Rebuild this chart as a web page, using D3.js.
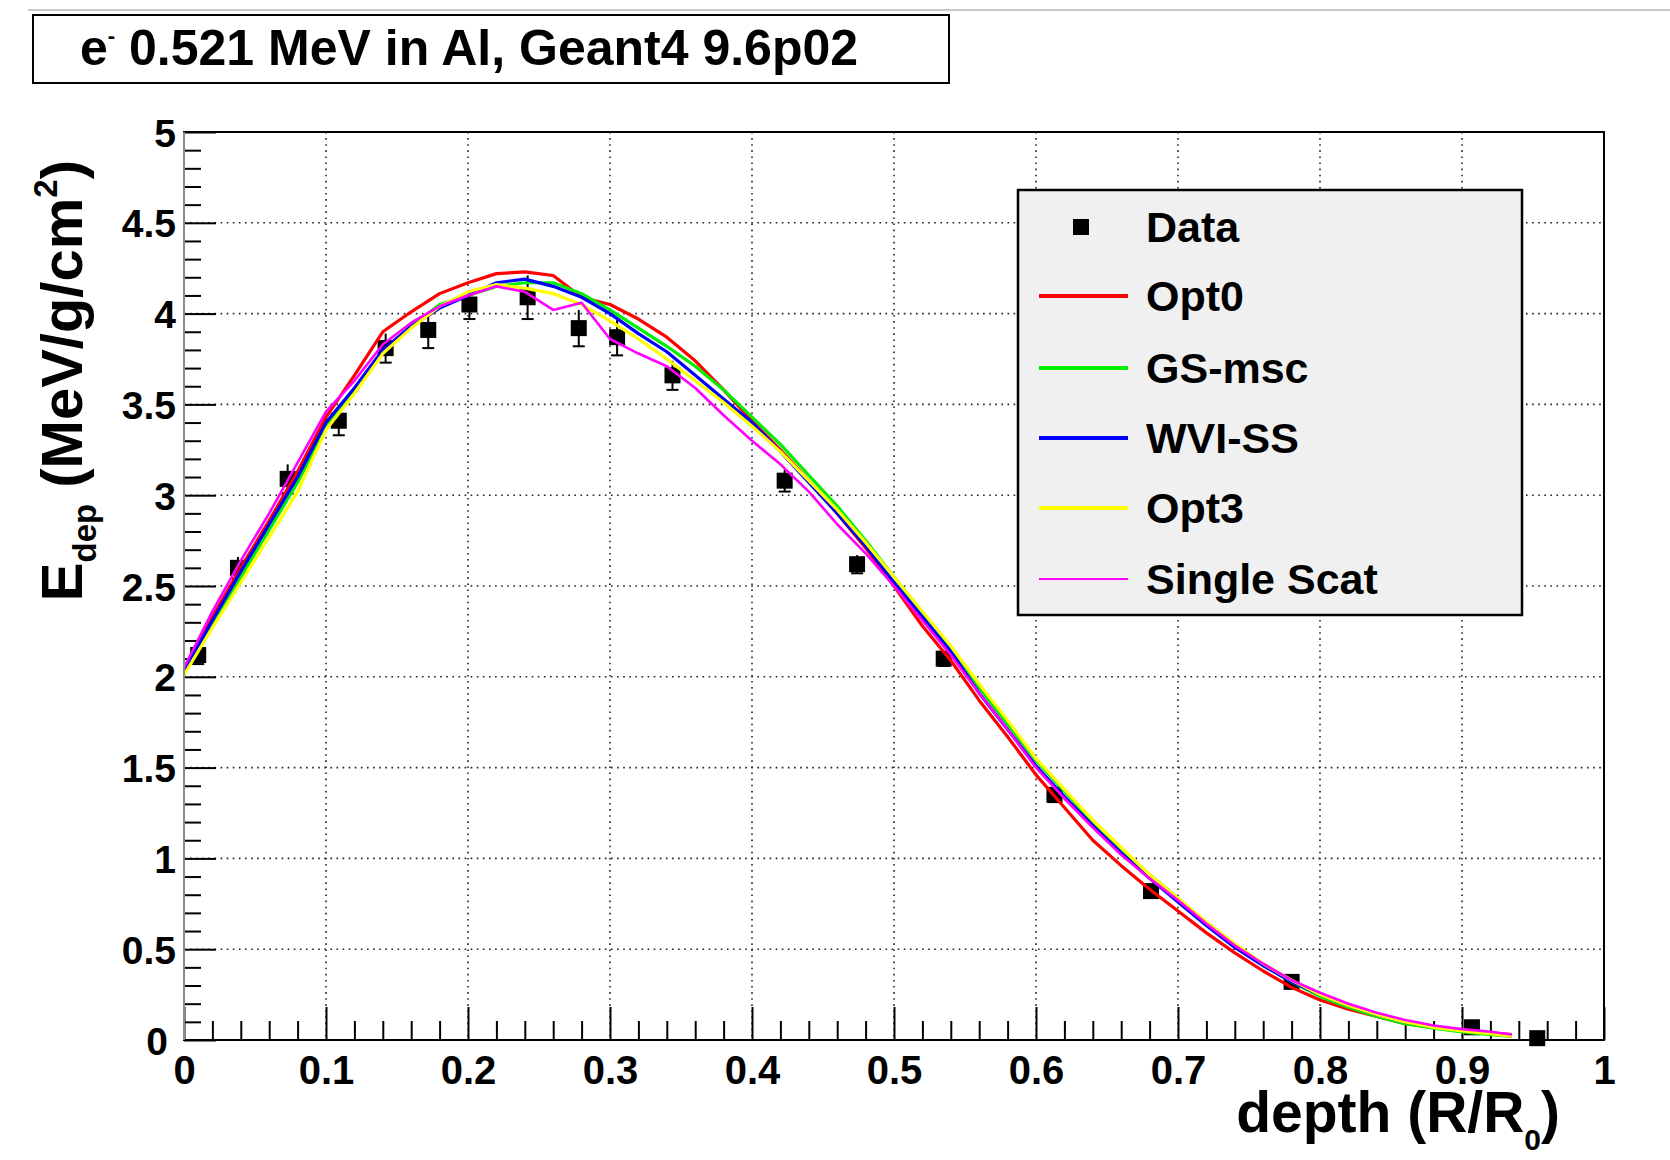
<!DOCTYPE html>
<html>
<head>
<meta charset="utf-8">
<script src="https://cdn.jsdelivr.net/npm/d3@7"></script>
<style>
  body { margin: 0; background: #fff; }
  svg { display: block; font-family: "Liberation Sans", Arial, Helvetica, sans-serif; font-weight: bold; }
</style>
</head>
<body>
<svg id="chart" width="1670" height="1160"></svg>
<script>
// data points (measured)
var dataX = [0.010, 0.038, 0.073, 0.109, 0.142, 0.172, 0.201, 0.242, 0.278, 0.305, 0.344, 0.423, 0.474, 0.535, 0.613, 0.681, 0.780, 0.907, 0.953];
var dataY = [2.12, 2.60, 3.09, 3.41, 3.81, 3.91, 4.05, 4.09, 3.92, 3.87, 3.66, 3.08, 2.62, 2.10, 1.35, 0.82, 0.32, 0.07, 0.01];
var dataErr = [0.05, 0.06, 0.08, 0.08, 0.08, 0.10, 0.08, 0.12, 0.10, 0.10, 0.08, 0.06, 0.05, 0.04, 0.04, 0.03, 0.02, 0.02, 0.02];

// simulation depth grid
var depth = [0, 0.02, 0.04, 0.06, 0.08, 0.10, 0.12, 0.14, 0.16, 0.18, 0.20, 0.22, 0.24, 0.26, 0.28, 0.30,
             0.32, 0.34, 0.36, 0.38, 0.40, 0.42, 0.44, 0.46, 0.48, 0.50, 0.52, 0.54, 0.56, 0.58, 0.60, 0.62,
             0.64, 0.66, 0.68, 0.70, 0.72, 0.74, 0.76, 0.78, 0.80, 0.82, 0.84, 0.86, 0.88, 0.90, 0.92, 0.935];

var opt0 = [2.04, 2.33, 2.60, 2.86, 3.13, 3.43, 3.66, 3.90, 4.01, 4.11, 4.17, 4.22, 4.23, 4.21, 4.09, 4.05,
            3.97, 3.87, 3.74, 3.58, 3.41, 3.25, 3.08, 2.90, 2.71, 2.50, 2.28, 2.09, 1.87, 1.67, 1.46, 1.28,
            1.10, 0.96, 0.83, 0.71, 0.59, 0.48, 0.38, 0.29, 0.22, 0.17, 0.13, 0.09, 0.07, 0.05, 0.04, 0.03];
var gsMsc = [2.02, 2.29, 2.55, 2.81, 3.07, 3.38, 3.58, 3.79, 3.93, 4.05, 4.10, 4.15, 4.17, 4.17, 4.11, 4.02,
             3.92, 3.82, 3.71, 3.58, 3.43, 3.28, 3.11, 2.94, 2.75, 2.55, 2.35, 2.16, 1.94, 1.74, 1.54, 1.37,
             1.20, 1.05, 0.91, 0.78, 0.64, 0.52, 0.41, 0.32, 0.24, 0.18, 0.13, 0.09, 0.065, 0.045, 0.03, 0.02];
var wviSS = [2.03, 2.31, 2.58, 2.84, 3.10, 3.40, 3.59, 3.80, 3.93, 4.03, 4.10, 4.17, 4.19, 4.15, 4.09, 4.00,
             3.89, 3.79, 3.66, 3.53, 3.40, 3.24, 3.07, 2.90, 2.72, 2.52, 2.33, 2.14, 1.91, 1.71, 1.51, 1.34,
             1.18, 1.03, 0.89, 0.76, 0.63, 0.51, 0.41, 0.32, 0.25, 0.19, 0.14, 0.10, 0.075, 0.055, 0.04, 0.02];
var opt3 = [2.01, 2.27, 2.52, 2.77, 3.02, 3.36, 3.56, 3.78, 3.92, 4.04, 4.12, 4.16, 4.14, 4.11, 4.05, 3.96,
            3.86, 3.75, 3.63, 3.51, 3.38, 3.24, 3.08, 2.92, 2.74, 2.55, 2.36, 2.17, 1.96, 1.76, 1.55, 1.38,
            1.21, 1.06, 0.91, 0.78, 0.65, 0.53, 0.42, 0.33, 0.25, 0.19, 0.14, 0.10, 0.07, 0.05, 0.035, 0.02];
var singleScat = [2.05, 2.36, 2.64, 2.90, 3.18, 3.46, 3.63, 3.83, 3.95, 4.04, 4.10, 4.15, 4.12, 4.02, 4.06, 3.86,
                  3.78, 3.71, 3.59, 3.44, 3.30, 3.17, 3.02, 2.84, 2.68, 2.50, 2.31, 2.12, 1.91, 1.71, 1.50, 1.33,
                  1.17, 1.02, 0.89, 0.77, 0.64, 0.52, 0.42, 0.33, 0.26, 0.20, 0.15, 0.11, 0.08, 0.06, 0.045, 0.03];

var seriesNames = ["Opt0", "GS-msc", "WVI-SS", "Opt3", "Single Scat"];
var seriesValues = [opt0, gsMsc, wviSS, opt3, singleScat];
var seriesColors = ["#ff0000", "#00ee00", "#0000ff", "#ffff00", "#ff00ff"];

var xTickLabels = ["0", "0.1", "0.2", "0.3", "0.4", "0.5", "0.6", "0.7", "0.8", "0.9", "1"];
var yTickLabels = ["0", "0.5", "1", "1.5", "2", "2.5", "3", "3.5", "4", "4.5", "5"];

(function() {
var svg = d3.select('#chart');
var pLeft = 184, pRight = 1604, pTop = 132, pBottom = 1040;

var x = d3.scaleLinear().domain([0, 1]).range([pLeft, pRight]);
var y = d3.scaleLinear().domain([0, 5]).range([pBottom, pTop]);

svg.append('rect').attr('width', 1670).attr('height', 1160).attr('fill', '#fff');

// top gray rule and title box
svg.append('line').attr('x1', 28).attr('x2', 1670).attr('y1', 10).attr('y2', 10)
    .attr('stroke', '#c8c8c8').attr('stroke-width', 2);
svg.append('rect').attr('x', 33).attr('y', 15).attr('width', 916).attr('height', 68)
    .attr('fill', '#fff').attr('stroke', '#000').attr('stroke-width', 2);
var title = svg.append('text').attr('x', 80).attr('y', 65).style('font-size', '50px');
title.append('tspan').text('e');
title.append('tspan').attr('dy', -22).style('font-size', '22px').text('-');
title.append('tspan').attr('dy', 22).text(' 0.521 MeV in Al, Geant4 9.6p02');

// grid (dotted)
var xMajor = xTickLabels.map(Number);
var yMajor = yTickLabels.map(Number);
svg.append('g').attr('class', 'grid')
    .selectAll('line').data(xMajor.slice(1, -1)).enter().append('line')
    .attr('x1', function(d) { return x(d); }).attr('x2', function(d) { return x(d); })
    .attr('y1', pTop).attr('y2', pBottom);
svg.append('g').attr('class', 'grid')
    .selectAll('line').data(yMajor.slice(1, -1)).enter().append('line')
    .attr('y1', function(d) { return y(d); }).attr('y2', function(d) { return y(d); })
    .attr('x1', pLeft).attr('x2', pRight);
svg.selectAll('.grid line').attr('stroke', '#222').attr('stroke-width', 1.6)
    .attr('stroke-dasharray', '1.6,4.5');

// minor ticks
var xMinor = d3.range(0, 50).map(function(i) { return i * 0.02; }).filter(function(v, i) { return i % 5 !== 0; });
var yMinor = d3.range(0, 50).map(function(i) { return i * 0.1; }).filter(function(v, i) { return i % 5 !== 0; });

var xMinorAxis = d3.axisBottom(x).tickValues(xMinor).tickSize(-19).tickFormat('');
var xMajorAxis = d3.axisBottom(x).tickValues(xMajor).tickSize(-33).tickPadding(44)
    .tickFormat(function(d, i) { return xTickLabels[i]; });
var yMinorAxis = d3.axisLeft(y).tickValues(yMinor).tickSize(-17).tickFormat('');
var yMajorAxis = d3.axisLeft(y).tickValues(yMajor).tickSize(-32).tickPadding(8)
    .tickFormat(function(d, i) { return yTickLabels[i]; });

function styleAxis(g) {
    g.select('.domain').remove();
    g.selectAll('.tick line').attr('stroke', '#000').attr('stroke-width', 2);
    g.selectAll('.tick text').attr('fill', '#000').style('font-weight', 'bold');
    g.attr('font-family', null).attr('font-size', null);
}

svg.append('g').attr('transform', 'translate(0,' + pBottom + ')').call(xMinorAxis).call(styleAxis);
var gx = svg.append('g').attr('transform', 'translate(0,' + pBottom + ')').call(xMajorAxis).call(styleAxis);
gx.selectAll('.tick text').style('font-size', '40px').attr('dy', 0);
svg.append('g').attr('transform', 'translate(' + pLeft + ',0)').call(yMinorAxis).call(styleAxis);
var gy = svg.append('g').attr('transform', 'translate(' + pLeft + ',0)').call(yMajorAxis).call(styleAxis);
gy.selectAll('.tick text').style('font-size', '39px').attr('dy', '0.36em');
gy.selectAll('.tick').filter(function(d) { return d === 0; }).select('text').attr('dx', -8);

// data points with error bars (drawn under curves)
var pts = svg.append('g').selectAll('g').data(dataX).enter().append('g');
pts.append('line')
    .attr('x1', function(d) { return x(d); }).attr('x2', function(d) { return x(d); })
    .attr('y1', function(d, i) { return y(dataY[i] - dataErr[i]); })
    .attr('y2', function(d, i) { return y(dataY[i] + dataErr[i]); })
    .attr('stroke', '#000').attr('stroke-width', 2);
pts.append('line')
    .attr('x1', function(d) { return x(d) - 6; }).attr('x2', function(d) { return x(d) + 6; })
    .attr('y1', function(d, i) { return y(dataY[i] - dataErr[i]); })
    .attr('y2', function(d, i) { return y(dataY[i] - dataErr[i]); })
    .attr('stroke', '#000').attr('stroke-width', 2);
pts.append('rect')
    .attr('x', function(d) { return x(d) - 8; })
    .attr('y', function(d, i) { return y(dataY[i]) - 8; })
    .attr('width', 16).attr('height', 16).attr('fill', '#000');

// simulation curves
var line = d3.line()
    .x(function(d, i) { return x(depth[i]); })
    .y(function(d) { return y(d); });

svg.append('g').selectAll('path').data(seriesValues).enter().append('path')
    .attr('d', line)
    .attr('fill', 'none')
    .attr('stroke', function(d, i) { return seriesColors[i]; })
    .attr('stroke-width', function(d, i) { return i === 4 ? 2.6 : 3.2; })
    .attr('stroke-linejoin', 'round');

// frame
svg.append('rect').attr('x', pLeft).attr('y', pTop).attr('width', pRight - pLeft).attr('height', pBottom - pTop)
    .attr('fill', 'none').attr('stroke', '#000').attr('stroke-width', 2);
svg.append('line').attr('x1', pLeft).attr('x2', pLeft).attr('y1', pTop).attr('y2', pBottom)
    .attr('stroke', '#8a8a8a').attr('stroke-width', 2);

// axis titles
var xt = svg.append('text').attr('x', 1560).attr('y', 1132).attr('text-anchor', 'end')
    .style('font-size', '57px');
xt.append('tspan').text('depth (R/R');
xt.append('tspan').attr('dy', 18).style('font-size', '30px').text('0');
xt.append('tspan').attr('dy', -18).text(')');

var yt = svg.append('text').attr('transform', 'translate(82,160) rotate(-90)')
    .attr('text-anchor', 'end').style('font-size', '58px');
yt.append('tspan').text('E');
yt.append('tspan').attr('dy', 14).style('font-size', '33px').text('dep');
yt.append('tspan').attr('dy', -14).text(' (MeV/g/cm');
yt.append('tspan').attr('dy', -25).style('font-size', '33px').text('2');
yt.append('tspan').attr('dy', 25).text(')');

// legend
var leg = svg.append('g');
leg.append('rect').attr('x', 1018).attr('y', 190).attr('width', 504).attr('height', 425)
    .attr('fill', '#f0f0f0').attr('stroke', '#000').attr('stroke-width', 2.5);
var legY = [227, 296, 368, 438, 508, 579];
leg.append('rect').attr('x', 1073).attr('y', legY[0] - 8).attr('width', 16).attr('height', 16).attr('fill', '#000');
leg.append('text').attr('x', 1146).attr('y', legY[0] + 15).style('font-size', '43px').text('Data');
seriesNames.forEach(function(name, i) {
    leg.append('line').attr('x1', 1039).attr('x2', 1128)
        .attr('y1', legY[i + 1]).attr('y2', legY[i + 1])
        .attr('stroke', seriesColors[i]).attr('stroke-width', i === 4 ? 2 : 4);
    leg.append('text').attr('x', 1146).attr('y', legY[i + 1] + 15)
        .style('font-size', '43px').text(name);
});
})();
</script>
</body>
</html>
